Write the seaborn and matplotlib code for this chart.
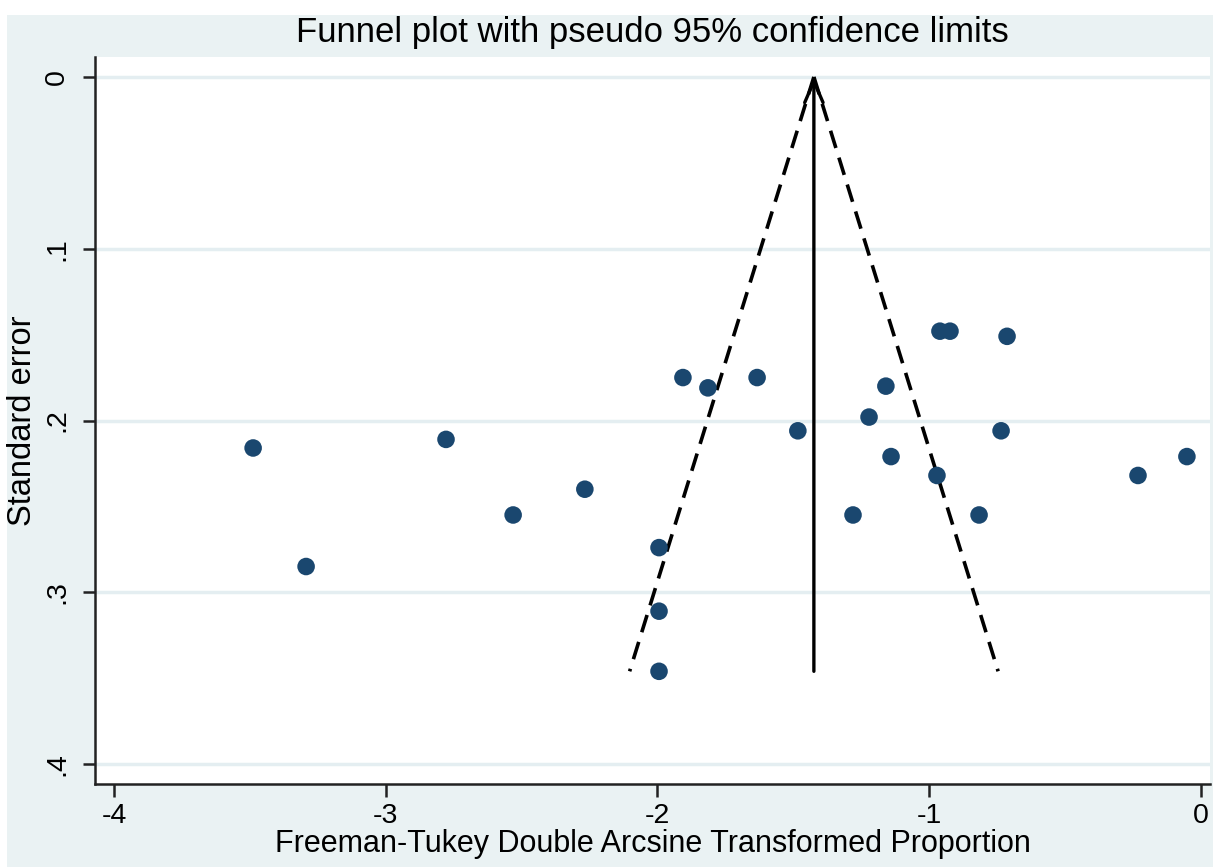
import numpy as np
import pandas as pd
import matplotlib
matplotlib.use("Agg")
import matplotlib.pyplot as plt
from matplotlib.patches import Rectangle
import seaborn as sns

# Data
effect = [-3.488, -3.293, -2.778, -2.531, -2.267, -1.906, -1.814, -1.633,
          -1.994, -1.994, -1.994, -1.483, -1.221, -1.159, -1.140, -1.280,
          -0.960, -0.923, -0.713, -0.735, -0.971, -0.816, -0.231, -0.051]
se = [0.216, 0.285, 0.211, 0.255, 0.240, 0.175, 0.181, 0.175,
      0.274, 0.311, 0.346, 0.206, 0.198, 0.180, 0.221, 0.255,
      0.148, 0.148, 0.151, 0.206, 0.232, 0.255, 0.232, 0.221]
pooled = -1.424
x_ticks = [-4, -3, -2, -1, 0]
y_ticks = [0, 0.1, 0.2, 0.3, 0.4]
y_ticklabels = ["0", ".1", ".2", ".3", ".4"]

df = pd.DataFrame({"effect": effect, "se": se})

sns.set_theme(style="white")
plt.rcParams['font.family'] = ['Liberation Sans', 'DejaVu Sans']
plt.rcParams['text.color'] = 'black'
plt.rcParams['axes.labelcolor'] = 'black'
plt.rcParams['xtick.color'] = 'black'
plt.rcParams['ytick.color'] = 'black'

fig = plt.figure(figsize=(12.13, 8.67), dpi=100, facecolor="white")
fig.patches.append(Rectangle((7 / 1213, 0), 1, 1 - 15 / 867, transform=fig.transFigure,
                             facecolor="#eaf2f3", edgecolor="none", zorder=-10))
ax = fig.add_axes([95 / 1213, 1 - 784 / 867, (1210 - 95) / 1213, (784 - 57) / 867])
ax.set_facecolor("white")

# grid lines
for yt in y_ticks:
    ax.axhline(yt, color="#e4eef1", lw=2.5, zorder=0)

maxse = max(se)
se_line = np.array([0.0, maxse])
ax.plot(pooled - 1.96 * se_line, se_line, color="black", lw=2.6, ls=(0, (5, 2.8)), zorder=2)
ax.plot(pooled + 1.96 * se_line, se_line, color="black", lw=2.6, ls=(0, (5, 2.8)), zorder=2)
ax.annotate("", xy=(pooled, 0), xytext=(pooled, maxse),
            arrowprops=dict(arrowstyle="->,head_length=0.7,head_width=0.3", color="black",
                            lw=2.4, mutation_scale=22, shrinkA=0, shrinkB=0), zorder=2)

sns.scatterplot(data=df, x="effect", y="se", ax=ax, color="#1a476f", s=160,
                edgecolor="none", zorder=3, legend=False)

ax.set_xlim(-4.07, 0.034)
ax.set_ylim(0.4116, -0.0116)
ax.set_xticks(x_ticks)
ax.set_xticklabels([str(v) for v in x_ticks])
ax.set_yticks(y_ticks)
ax.set_yticklabels(y_ticklabels, rotation=90, va="center")
ax.tick_params(axis="both", direction="out", length=9, width=1.8, color="#222222",
               labelsize=20.5, left=True, bottom=True)
ax.tick_params(axis="x", pad=5)
ax.tick_params(axis="y", pad=9)
for side in ["top", "right"]:
    ax.spines[side].set_visible(False)
for side in ["left", "bottom"]:
    ax.spines[side].set_color("#222222")
    ax.spines[side].set_linewidth(1.8)

ax.set_xlabel("Freeman-Tukey Double Arcsine Transformed Proportion", fontsize=22, labelpad=0)
ax.set_ylabel("Standard error", fontsize=23.5, labelpad=4)
ax.set_title("Funnel plot with pseudo 95% confidence limits", fontsize=25, pad=11)

fig.savefig("out.png", dpi=100, facecolor=fig.get_facecolor())
